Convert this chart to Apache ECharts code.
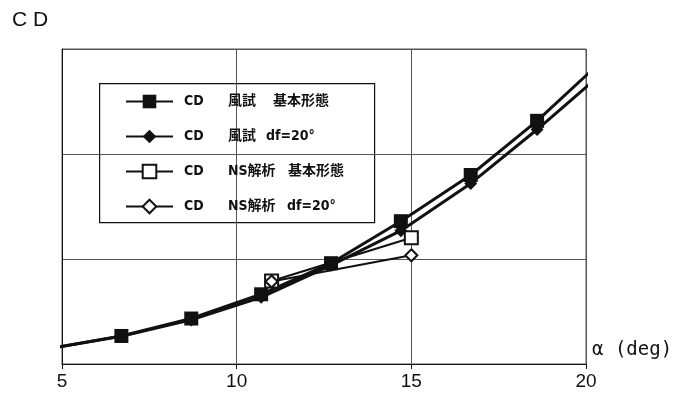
<!DOCTYPE html>
<html>
<head>
<meta charset="utf-8">
<script src="https://cdn.jsdelivr.net/npm/echarts@6/dist/echarts.min.js"></script>
<style>
  html, body { margin: 0; padding: 0; background: #fff; }
  #chart { width: 690px; height: 397px; }
</style>
</head>
<body>
<div id="chart"></div>
<script>
// Angle of attack (deg) and drag coefficient CD (relative units)
const alphaWind = [4.7, 6.7, 8.7, 10.7, 12.7, 14.7, 16.7, 18.6, 20.5];
const cdWindBase = [0.15, 0.267, 0.433, 0.664, 0.96, 1.36, 1.80, 2.316, 2.90];
const cdWindDf20 = [0.15, 0.265, 0.42, 0.635, 0.94, 1.27, 1.72, 2.233, 2.78];

const alphaNS = [11, 15];
const cdNSBase = [0.79, 1.203];
const cdNSDf20 = [0.785, 1.035];

const xTicks = [5, 10, 15, 20];

const seriesNames = [
  'CD 風試 基本形態',
  'CD 風試 df=20°',
  'CD NS解析 基本形態',
  'CD NS解析 df=20°'
];
// rich-text pieces for each legend row
const legendParts = {
  'CD 風試 基本形態': ['CD', '風試', '基本形態', 'b1'],
  'CD 風試 df=20°': ['CD', '風試', 'df=20°', 'b2'],
  'CD NS解析 基本形態': ['CD', 'NS解析', '基本形態', 'b3'],
  'CD NS解析 df=20°': ['CD', 'NS解析', 'df=20°', 'b4']
};

const pairs = (xs, ys) => xs.map((x, i) => [x, ys[i]]);
const ink = '#111';
const gridInk = '#555';
const legendFont = '"DejaVu Sans Condensed", "Noto Sans CJK JP", sans-serif';
const txt = (extra) => Object.assign({ fontSize: 14, fontWeight: 'bold', fontFamily: legendFont, color: ink }, extra || {});

const chart = echarts.init(document.getElementById('chart'), null, { renderer: 'canvas' });

chart.setOption({
  animation: false,
  backgroundColor: '#fff',
  grid: {
    left: 62, right: 104, top: 49, bottom: 33,
    show: true, borderColor: gridInk, borderWidth: 1
  },
  xAxis: {
    type: 'value', min: xTicks[0], max: xTicks[xTicks.length - 1], interval: 5,
    axisLine: { show: true, lineStyle: { color: ink, width: 1 } },
    axisTick: { show: true, length: 5, lineStyle: { color: ink } },
    axisLabel: {
      margin: 8, color: ink, fontSize: 19,
      fontFamily: '"Liberation Sans", Arial, sans-serif'
    },
    splitLine: { show: true, lineStyle: { color: gridInk, width: 1 } }
  },
  yAxis: {
    type: 'value', min: 0, max: 3, interval: 1,
    axisLine: { show: true, lineStyle: { color: ink, width: 1 } },
    axisTick: { show: false },
    axisLabel: { show: false },
    splitLine: { show: true, lineStyle: { color: gridInk, width: 1 } }
  },
  legend: {
    orient: 'vertical',
    left: 99, top: 83,
    padding: [10, 10, 8, 26],
    itemWidth: 47, itemHeight: 17, itemGap: 18,
    data: seriesNames,
    textStyle: txt({
      lineHeight: 17,
      rich: {
        a: txt({ width: 44, padding: [0, 0, 0, 6] }),
        b1: txt({ width: 45 }),
        b2: txt({ width: 38 }),
        b3: txt({ width: 60 }),
        b4: txt({ width: 59 }),
        c: txt()
      }
    }),
    formatter: function (name) {
      const p = legendParts[name];
      return '{a|' + p[0] + '}{' + p[3] + '|' + p[1] + '}{c|' + p[2] + '}';
    }
  },
  graphic: [
    {
      type: 'rect', left: 99, top: 83, z: 0,
      shape: { width: 275, height: 139 },
      style: { fill: '#fff', stroke: ink, lineWidth: 1.2 }
    },
    {
      type: 'text', left: 12, top: 10,
      style: {
        text: 'C D', fill: ink, fontSize: 21,
        fontFamily: '"Liberation Sans", Arial, sans-serif'
      }
    },
    {
      type: 'text', left: 592, top: 341,
      style: {
        text: 'α (deg)', fill: ink, fontSize: 19,
        fontFamily: '"DejaVu Sans Mono", monospace'
      }
    }
  ],
  series: [
    {
      name: seriesNames[0], type: 'line', data: pairs(alphaWind, cdWindBase),
      clip: true, symbol: 'rect', symbolSize: 14, showAllSymbol: true,
      lineStyle: { color: ink, width: 3 }, itemStyle: { color: ink }, z: 3
    },
    {
      name: seriesNames[1], type: 'line', data: pairs(alphaWind, cdWindDf20),
      clip: true, symbol: 'diamond', symbolSize: 13, showAllSymbol: true,
      lineStyle: { color: ink, width: 3 }, itemStyle: { color: ink }, z: 3
    },
    {
      name: seriesNames[2], type: 'line', data: pairs(alphaNS, cdNSBase),
      clip: true, symbol: 'emptyRect', symbolSize: 13, showAllSymbol: true,
      lineStyle: { color: ink, width: 2 },
      itemStyle: { color: ink, borderColor: ink, borderWidth: 1.5 }, z: 4
    },
    {
      name: seriesNames[3], type: 'line', data: pairs(alphaNS, cdNSDf20),
      clip: true, symbol: 'emptyDiamond', symbolSize: 12, showAllSymbol: true,
      lineStyle: { color: ink, width: 2 },
      itemStyle: { color: ink, borderColor: ink, borderWidth: 1.5 }, z: 4
    }
  ]
});
</script>
</body>
</html>
